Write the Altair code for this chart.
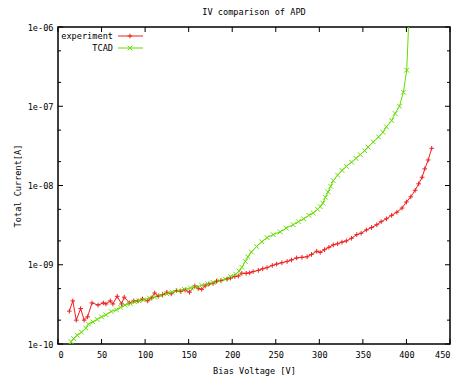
import altair as alt
import pandas as pd

# ---- data ----
chart_title = "IV comparison of APD"
series_names = ["experiment", "TCAD"]
series_colors = ["#ee2020", "#66dd00"]

exp_v = [13, 17, 21, 26, 30, 34, 39, 46, 52, 55, 60, 63, 68, 73, 76, 82, 87, 92, 97,
         103, 107, 111, 115, 120, 125, 130, 136, 141, 146, 151, 157, 161, 165, 169,
         173, 178, 182, 187, 194, 198, 203, 207, 211, 216, 220, 224, 230, 235, 240,
         246, 251, 257, 263, 268, 274, 280, 286, 291, 297, 301, 306, 311, 316, 321,
         326, 331, 337, 343, 348, 354, 360, 366, 371, 377, 383, 389, 395, 400, 405,
         410, 414, 418, 421, 425, 429]
exp_i = [2.6e-10, 3.5e-10, 2.0e-10, 2.8e-10, 2.0e-10, 2.2e-10, 3.3e-10, 3.1e-10,
         3.3e-10, 3.2e-10, 3.5e-10, 3.2e-10, 4.0e-10, 3.2e-10, 3.9e-10, 3.3e-10,
         3.5e-10, 3.5e-10, 3.7e-10, 3.5e-10, 3.8e-10, 4.4e-10, 4.0e-10, 4.2e-10,
         4.5e-10, 4.3e-10, 4.7e-10, 4.6e-10, 4.8e-10, 4.5e-10, 5.4e-10, 5.0e-10,
         4.9e-10, 5.4e-10, 5.7e-10, 5.8e-10, 6.2e-10, 6.3e-10, 6.6e-10, 6.8e-10,
         7.1e-10, 7.2e-10, 7.8e-10, 7.8e-10, 7.9e-10, 8.2e-10, 8.5e-10, 8.9e-10,
         9.2e-10, 9.8e-10, 1.02e-9, 1.06e-9, 1.10e-9, 1.15e-9, 1.22e-9, 1.24e-9,
         1.26e-9, 1.35e-9, 1.48e-9, 1.43e-9, 1.55e-9, 1.66e-9, 1.78e-9, 1.84e-9,
         1.93e-9, 2.0e-9, 2.16e-9, 2.4e-9, 2.5e-9, 2.75e-9, 2.95e-9, 3.2e-9, 3.5e-9,
         3.8e-9, 4.2e-9, 4.6e-9, 5.2e-9, 6.2e-9, 7.2e-9, 8.7e-9, 1.05e-8, 1.27e-8,
         1.62e-8, 2.1e-8, 2.95e-8]

tcad_v = [13, 15, 18, 22, 27, 32, 35, 40, 45, 50, 55, 61, 67, 72, 77, 83, 88, 93, 98,
          105, 111, 118, 125, 131, 138, 145, 152, 158, 165, 172, 178, 185, 192, 198,
          204, 208, 211, 215, 218, 222, 228, 234, 240, 247, 255, 262, 270, 276, 282,
          288, 293, 298, 301, 304, 307, 310, 313, 316, 321, 326, 331, 337, 342, 347,
          352, 356, 362, 368, 373, 377, 383, 387, 392, 396.5, 400.3, 403.2]
tcad_i = [9.3e-11, 1.07e-10, 1.17e-10, 1.29e-10, 1.41e-10, 1.58e-10, 1.78e-10,
          1.9e-10, 2.04e-10, 2.2e-10, 2.34e-10, 2.57e-10, 2.7e-10, 2.9e-10, 3.1e-10,
          3.24e-10, 3.4e-10, 3.5e-10, 3.6e-10, 3.8e-10, 3.9e-10, 4.1e-10, 4.3e-10,
          4.5e-10, 4.7e-10, 4.9e-10, 5.1e-10, 5.2e-10, 5.5e-10, 5.75e-10, 6.0e-10,
          6.3e-10, 6.6e-10, 7.1e-10, 7.6e-10, 8.3e-10, 9.3e-10, 1.10e-9, 1.26e-9,
          1.45e-9, 1.70e-9, 1.95e-9, 2.2e-9, 2.4e-9, 2.6e-9, 2.9e-9, 3.2e-9, 3.5e-9,
          3.8e-9, 4.2e-9, 4.5e-9, 5.0e-9, 5.4e-9, 6.0e-9, 7.1e-9, 8.3e-9, 9.8e-9,
          1.15e-8, 1.35e-8, 1.55e-8, 1.74e-8, 1.97e-8, 2.2e-8, 2.45e-8, 2.75e-8,
          3.05e-8, 3.55e-8, 4.1e-8, 4.7e-8, 5.5e-8, 6.6e-8, 8.1e-8, 1.0e-7, 1.5e-7,
          2.85e-7, 1.6e-6]

x_ticks = [0, 50, 100, 150, 200, 250, 300, 350, 400, 450]
y_ticks = [1e-10, 1e-9, 1e-8, 1e-7, 1e-6]
y_minor = [2e-10, 5e-10, 2e-9, 5e-9, 2e-8, 5e-8, 2e-7, 5e-7]

# ---- build tables ----
df = pd.concat([
    pd.DataFrame({"V": exp_v, "I": exp_i, "series": series_names[0]}),
    pd.DataFrame({"V": tcad_v, "I": tcad_i, "series": series_names[1]}),
], ignore_index=True)

FONT = "DejaVu Sans Mono"
FS = 8.6
W, H = 392, 317
PLUS = "M-1,0L1,0M0,-1L0,1"
XSHAPE = "M-1,-1L1,1M-1,1L1,-1"

xscale = alt.Scale(domain=[0, 450], nice=False, zero=False)
yscale = alt.Scale(type="log", domain=[1e-10, 1e-6], nice=False)
cscale = alt.Scale(domain=series_names, range=series_colors)
sscale = alt.Scale(domain=series_names, range=[PLUS, XSHAPE])

xaxis = alt.Axis(values=x_ticks, title="Bias Voltage [V]", format="d",
                 labelPadding=6, titlePadding=8)
yaxis = alt.Axis(values=y_ticks, title="Total Current[A]",
                 labelExpr="'1e-' + format(-round(log(datum.value)/LN10), '02d')",
                 labelPadding=5, titlePadding=5)

base = alt.Chart(df)
lines = base.mark_line(strokeWidth=1, clip=True).encode(
    x=alt.X("V:Q", scale=xscale, axis=xaxis),
    y=alt.Y("I:Q", scale=yscale, axis=yaxis),
    color=alt.Color("series:N", scale=cscale, legend=None),
    detail="series:N",
)
points = base.mark_point(filled=False, size=22, strokeWidth=1, clip=True, opacity=1).encode(
    x=alt.X("V:Q", scale=xscale),
    y=alt.Y("I:Q", scale=yscale),
    color=alt.Color("series:N", scale=cscale, legend=None),
    shape=alt.Shape("series:N", scale=sscale, legend=None),
)

xt = pd.DataFrame({"V": x_ticks})
yt = pd.DataFrame({"I": y_ticks})
ym = pd.DataFrame({"I": y_minor})
tick_layers = [
    alt.Chart(xt).mark_rule(color="black").encode(x=alt.X("V:Q", scale=xscale), y=alt.value(H), y2=alt.value(H - 5)),
    alt.Chart(xt).mark_rule(color="black").encode(x=alt.X("V:Q", scale=xscale), y=alt.value(0), y2=alt.value(5)),
    alt.Chart(yt).mark_rule(color="black").encode(y=alt.Y("I:Q", scale=yscale), x=alt.value(0), x2=alt.value(5)),
    alt.Chart(yt).mark_rule(color="black").encode(y=alt.Y("I:Q", scale=yscale), x=alt.value(W), x2=alt.value(W - 5)),
    alt.Chart(ym).mark_rule(color="black").encode(y=alt.Y("I:Q", scale=yscale), x=alt.value(0), x2=alt.value(3)),
    alt.Chart(ym).mark_rule(color="black").encode(y=alt.Y("I:Q", scale=yscale), x=alt.value(W), x2=alt.value(W - 3)),
]

title_layer = alt.Chart(pd.DataFrame({"t": [chart_title]})).mark_text(
    align="center", baseline="middle", font=FONT, fontSize=FS, color="black"
).encode(text="t:N", x=alt.value(W / 2), y=alt.value(-15))

legend_layers = []
for i, (name, col, shp) in enumerate(zip(series_names, series_colors, [PLUS, XSHAPE])):
    ly = 9 + 12 * i
    ld = pd.DataFrame({"label": [name]})
    legend_layers += [
        alt.Chart(ld).mark_text(align="right", baseline="middle", font=FONT, fontSize=FS,
                                color="black").encode(text="label:N", x=alt.value(55), y=alt.value(ly)),
        alt.Chart(ld).mark_rule(color=col, strokeWidth=1).encode(x=alt.value(60), x2=alt.value(85), y=alt.value(ly)),
        alt.Chart(ld).mark_point(shape=shp, filled=False, size=22, strokeWidth=1, color=col,
                                 opacity=1).encode(x=alt.value(72), y=alt.value(ly)),
    ]

chart = alt.layer(lines, points, *tick_layers, title_layer, *legend_layers).properties(
    width=W, height=H,
    autosize=alt.AutoSizeParams(type="none"),
    padding={"left": 50, "top": 19, "right": 4, "bottom": 36},
    background="white",
).configure_view(
    stroke="black", strokeWidth=1.5,
).configure_axis(
    grid=False, ticks=False, domain=False,
    labelFont=FONT, labelFontSize=FS, labelColor="black",
    titleFont=FONT, titleFontSize=FS, titleFontWeight="normal", titleColor="black",
)

chart.save("out.html", embed_options={"renderer": "svg", "actions": False})
